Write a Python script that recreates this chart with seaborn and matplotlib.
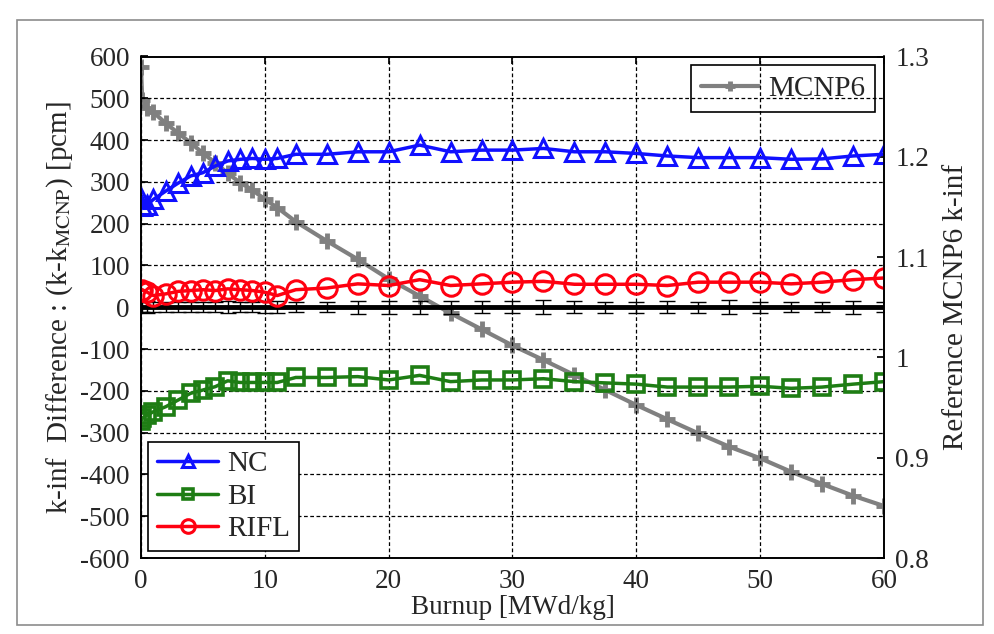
import numpy as np
import pandas as pd
import matplotlib
matplotlib.use("Agg")
import matplotlib.pyplot as plt
import seaborn as sns
from matplotlib.patches import Rectangle

# ---- data ----
burnup = [0, 0.1, 0.5, 1, 2, 3, 4, 5, 6, 7, 8, 9, 10, 11, 12.5, 15, 17.5, 20,
          22.5, 25, 27.5, 30, 32.5, 35, 37.5, 40, 42.5, 45, 47.5, 50, 52.5, 55, 57.5, 60]
nc = [262, 243, 245, 258, 278, 297, 314, 322, 338, 350, 354, 356, 354, 356, 366, 366,
      372, 372, 388, 372, 376, 376, 380, 372, 372, 368, 362, 358, 358, 358, 354, 355, 362, 366]
bi = [-272, -265, -258, -250, -238, -222, -206, -198, -190, -176, -180, -180, -180, -180,
      -168, -168, -166, -174, -163, -178, -174, -174, -171, -178, -181, -184, -191, -191,
      -191, -189, -194, -191, -184, -178]
rifl = [40, 42, 36, 28, 32, 38, 40, 42, 40, 44, 42, 40, 36, 28, 42, 46, 56, 52, 66, 52,
        56, 60, 62, 55, 55, 55, 52, 60, 60, 60, 56, 60, 66, 70]
mcnp_err = [12, 12, 14, 12, 12, 12, 12, 12, 12, 14, 12, 12, 14, 14, 12, 12, 16, 16, 16,
            16, 14, 14, 17, 14, 13, 13, 14, 13, 17, 13, 12, 12, 16, 12]
mcnp_k = [1.2898, 1.2566, 1.2484, 1.2444, 1.2334, 1.2237, 1.2141, 1.2035, 1.1941, 1.1836,
          1.1742, 1.1669, 1.1576, 1.1494, 1.1353, 1.1161, 1.0978, 1.0782, 1.0612, 1.0440,
          1.0280, 1.0119, 0.9974, 0.9824, 0.9675, 0.9525, 0.9383, 0.9243, 0.9110, 0.8994,
          0.8860, 0.8738, 0.8621, 0.8518]
left_ticks = list(range(-600, 601, 100))
right_ticks = [0.8, 0.9, 1.0, 1.1, 1.2, 1.3]
right_labels = ["0.8", "0.9", "1", "1.1", "1.2", "1.3"]
x_ticks = [0, 10, 20, 30, 40, 50, 60]

df = pd.DataFrame({"burnup": burnup, "NC": nc, "BI": bi, "RIFL": rifl,
                   "zero": [0.0] * len(burnup), "err": mcnp_err, "k": mcnp_k})

sns.set_theme(style="white")
plt.rcParams["font.family"] = ["Liberation Serif", "DejaVu Serif"]
plt.rcParams["mathtext.fontset"] = "stix"
plt.rcParams["axes.unicode_minus"] = False

FS = 19.5
FSL = 21
fig = plt.figure(figsize=(9.95, 6.34), dpi=100)
fig.patch.set_facecolor("white")
fig.add_artist(Rectangle((17 / 995, 1 - 625 / 634), (983 - 17) / 995, (625 - 20) / 634,
                         transform=fig.transFigure, fill=False, edgecolor="#8c8c8c", lw=1.2))

pos = [141 / 995, 1 - 558 / 634, (884 - 141) / 995, (558 - 56.5) / 634]
ax = fig.add_axes(pos)
ax2 = ax.twinx()
ax2.set_position(pos)

# right axis: MCNP6 reference (drawn behind)
sns.lineplot(data=df, x="burnup", y="k", ax=ax2, color="#808080", linewidth=3,
             label="MCNP6")
mline = ax2.lines[-1]
mline.set_linestyle("-")
mline.set_marker("+")
mline.set_markersize(12)
mline.set_markeredgewidth(3.5)
mline.set_markeredgecolor("#808080")
ax2.set_ylim(0.8, 1.3)
ax2.set_yticks(right_ticks)
ax2.set_yticklabels(right_labels, fontsize=FS)
ax2.set_ylabel("Reference MCNP6 k-inf", fontsize=FSL, labelpad=10)
leg2 = ax2.legend(loc="upper right", fontsize=FSL, frameon=True, fancybox=False,
                  edgecolor="black", framealpha=1, borderaxespad=0.3, handlelength=2.0,
                  handletextpad=0.3, borderpad=0.35, markerscale=0.6)
leg2.get_frame().set_linewidth(1.2)

ax.set_zorder(ax2.get_zorder() + 1)
ax.patch.set_visible(False)

# zero line with MCNP error bars
sns.lineplot(data=df, x="burnup", y="zero", ax=ax, color="black", linewidth=3.5,
             legend=False)
ax.errorbar(df["burnup"], df["zero"], yerr=df["err"], fmt="none", ecolor="black",
            elinewidth=1, capsize=6, capthick=1)

sns.lineplot(data=df, x="burnup", y="NC", ax=ax, color="#1010ff", marker="^",
             markersize=13, markerfacecolor="none", markeredgecolor="#1010ff",
             markeredgewidth=2.2, linewidth=2.5, label="NC")
sns.lineplot(data=df, x="burnup", y="BI", ax=ax, color="#1e7d14", marker="s",
             markersize=11, markerfacecolor="none", markeredgecolor="#1e7d14",
             markeredgewidth=2.6, linewidth=2.5, label="BI")
sns.lineplot(data=df, x="burnup", y="RIFL", ax=ax, color="#ff0010", marker="o",
             markersize=14, markerfacecolor="none", markeredgecolor="#ff0010",
             markeredgewidth=2.2, linewidth=2.5, label="RIFL")

ax.set_xlim(0, 60)
ax.set_ylim(-600, 600)
ax.set_xticks(x_ticks)
ax.set_yticks(left_ticks)
ax.set_xticklabels([str(t) for t in x_ticks], fontsize=FS)
ax.set_yticklabels([str(t) for t in left_ticks], fontsize=FS)
ax.set_xlabel("Burnup [MWd/kg]", fontsize=FS, labelpad=1)
ax.set_ylabel(r"k-inf  Difference : (k-k$_{\mathrm{MCNP}}$) [pcm]", fontsize=FSL, labelpad=4)

ax.grid(True, linestyle=(0, (3, 2)), color="black", linewidth=0.9)
for a in (ax, ax2):
    for s in a.spines.values():
        s.set_color("black")
        s.set_linewidth(1.2)
ax.tick_params(axis="both", direction="in", length=5, color="black", pad=8,
               top=True, right=False)
ax2.tick_params(axis="y", direction="in", length=5, color="black", pad=8)

leg = ax.legend(loc="lower left", fontsize=FSL, frameon=True, fancybox=False,
                edgecolor="black", framealpha=1, borderaxespad=0.25, handlelength=2.1,
                handletextpad=0.3, labelspacing=0.2, borderpad=0.3, markerscale=0.7)
leg.get_frame().set_linewidth(1.2)

fig.savefig("out.png", dpi=100, facecolor="white")
